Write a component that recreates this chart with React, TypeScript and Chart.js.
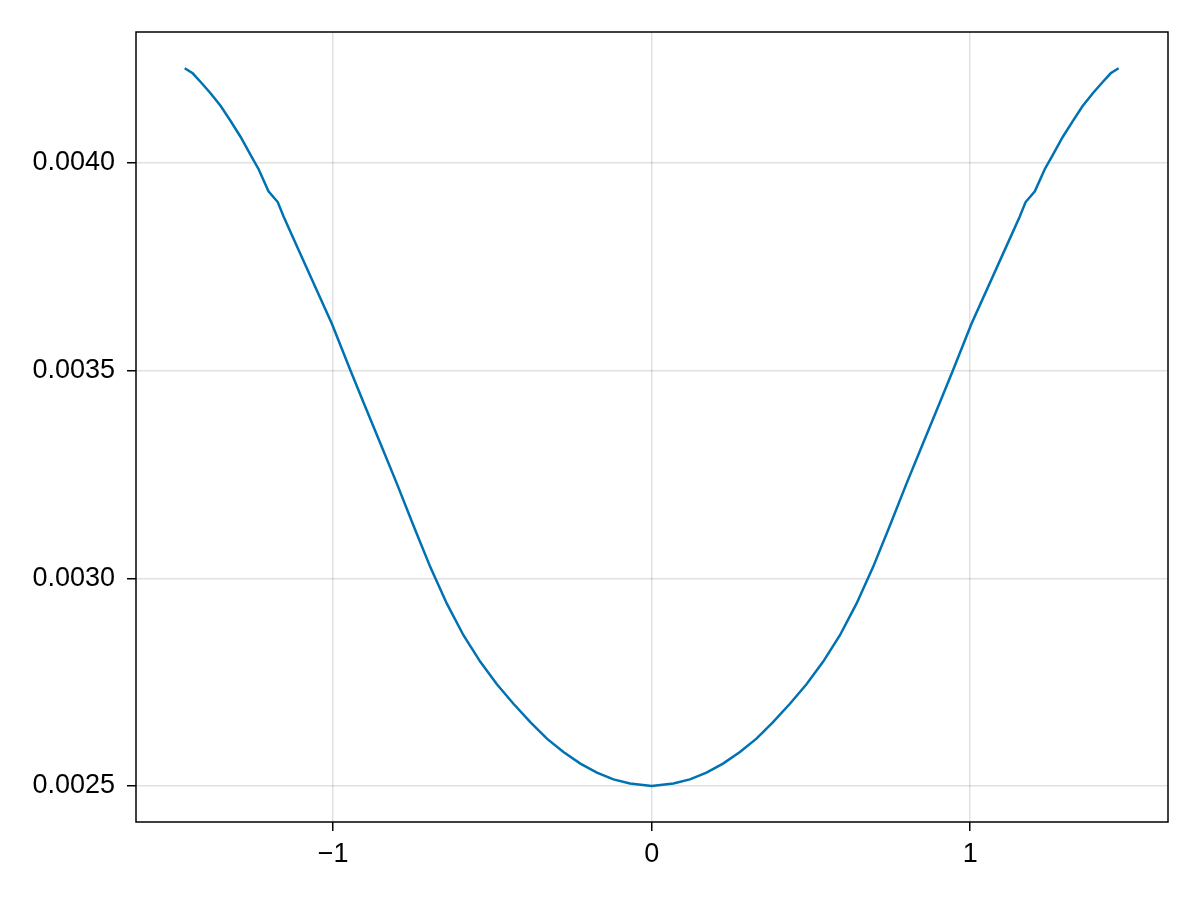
import React, { useEffect, useRef } from "react";
import { Chart, registerables } from "chart.js";

Chart.register(...registerables);

// Left half of the curve; right half is its mirror
const xLeft = [
  -1.466, -1.441, -1.416, -1.385, -1.353, -1.322, -1.290, -1.259, -1.234, -1.203, -1.174, -1.155, -1.111,
  -1.004, -0.945, -0.905, -0.852, -0.800, -0.748, -0.695, -0.643, -0.591, -0.538, -0.486, -0.434,
  -0.381, -0.329, -0.277, -0.224, -0.172, -0.120, -0.068,
];
const yLeft = [
  0.004228, 0.004216, 0.004195, 0.004168, 0.004137, 0.004101, 0.004062, 0.004019, 0.003985, 0.003932, 0.003906, 0.003870, 0.003795,
  0.003613, 0.003499, 0.003424, 0.003325, 0.003228, 0.003127, 0.003027, 0.002939, 0.002863, 0.002799, 0.002745, 0.002698,
  0.002654, 0.002614, 0.002582, 0.002554, 0.002532, 0.002516, 0.002506,
];
const xCenter = 0;
const yCenter = 0.0025;

const xTicks = [-1, 0, 1];
const yTicks = [0.0025, 0.003, 0.0035, 0.004];

const xMin = -1.619;
const xMax = 1.621;
const yMin = 0.0024133;
const yMax = 0.0043154;

const framePlugin = {
  id: "frame",
  afterDraw(chart: any) {
    const { ctx, chartArea } = chart;
    ctx.save();
    ctx.strokeStyle = "#000";
    ctx.lineWidth = 1.5;
    ctx.strokeRect(chartArea.left, chartArea.top, chartArea.right - chartArea.left, chartArea.bottom - chartArea.top);
    ctx.restore();
  },
};

export default function App() {
  const ref = useRef<HTMLCanvasElement>(null);
  useEffect(() => {
    if (!ref.current) return;
    const pts: { x: number; y: number }[] = [];
    xLeft.forEach((x, i) => pts.push({ x, y: yLeft[i] }));
    pts.push({ x: xCenter, y: yCenter });
    for (let i = xLeft.length - 1; i >= 0; i--) pts.push({ x: -xLeft[i], y: yLeft[i] });

    const font = { family: "'Liberation Sans', Arial, sans-serif", size: 27 };
    const chart = new Chart(ref.current, {
      type: "scatter",
      data: {
        datasets: [
          {
            data: pts,
            showLine: true,
            borderColor: "rgb(0,114,178)",
            borderWidth: 2.5,
            pointRadius: 0,
            tension: 0,
          },
        ],
      },
      options: {
        animation: false,
        responsive: false,
        devicePixelRatio: 1,
        layout: { padding: { left: 0, top: 32, right: 32, bottom: 0 } },
        plugins: { legend: { display: false }, tooltip: { enabled: false } },
        scales: {
          x: {
            type: "linear",
            min: xMin,
            max: xMax,
            afterBuildTicks: (s: any) => {
              s.ticks = xTicks.map((v) => ({ value: v }));
            },
            afterFit: (s: any) => {
              s.height = 78;
            },
            grid: {
              color: "rgba(0,0,0,0.12)",
              lineWidth: 1.5,
              tickColor: "#000",
              tickWidth: 1.5,
              tickLength: 9,
            },
            border: { display: false },
            ticks: {
              color: "#000",
              font,
              padding: 7,
              maxRotation: 0,
              callback: (v: any) => String(v).replace("-", "\u2212"),
            },
          },
          y: {
            type: "linear",
            min: yMin,
            max: yMax,
            afterBuildTicks: (s: any) => {
              s.ticks = yTicks.map((v) => ({ value: v }));
            },
            afterFit: (s: any) => {
              s.width = 136;
            },
            grid: {
              color: "rgba(0,0,0,0.12)",
              lineWidth: 1.5,
              tickColor: "#000",
              tickWidth: 1.5,
              tickLength: 9,
            },
            border: { display: false },
            ticks: {
              color: "#000",
              font,
              padding: 12,
              callback: (v: any) => Number(v).toFixed(4),
            },
          },
        },
      },
      plugins: [framePlugin],
    });
    return () => chart.destroy();
  }, []);
  return (
    <div style={{ position: "fixed", left: 0, top: 0, width: 1200, height: 900, background: "#fff" }}>
      <canvas ref={ref} width={1200} height={900} style={{ display: "block", width: 1200, height: 900 }} />
    </div>
  );
}
